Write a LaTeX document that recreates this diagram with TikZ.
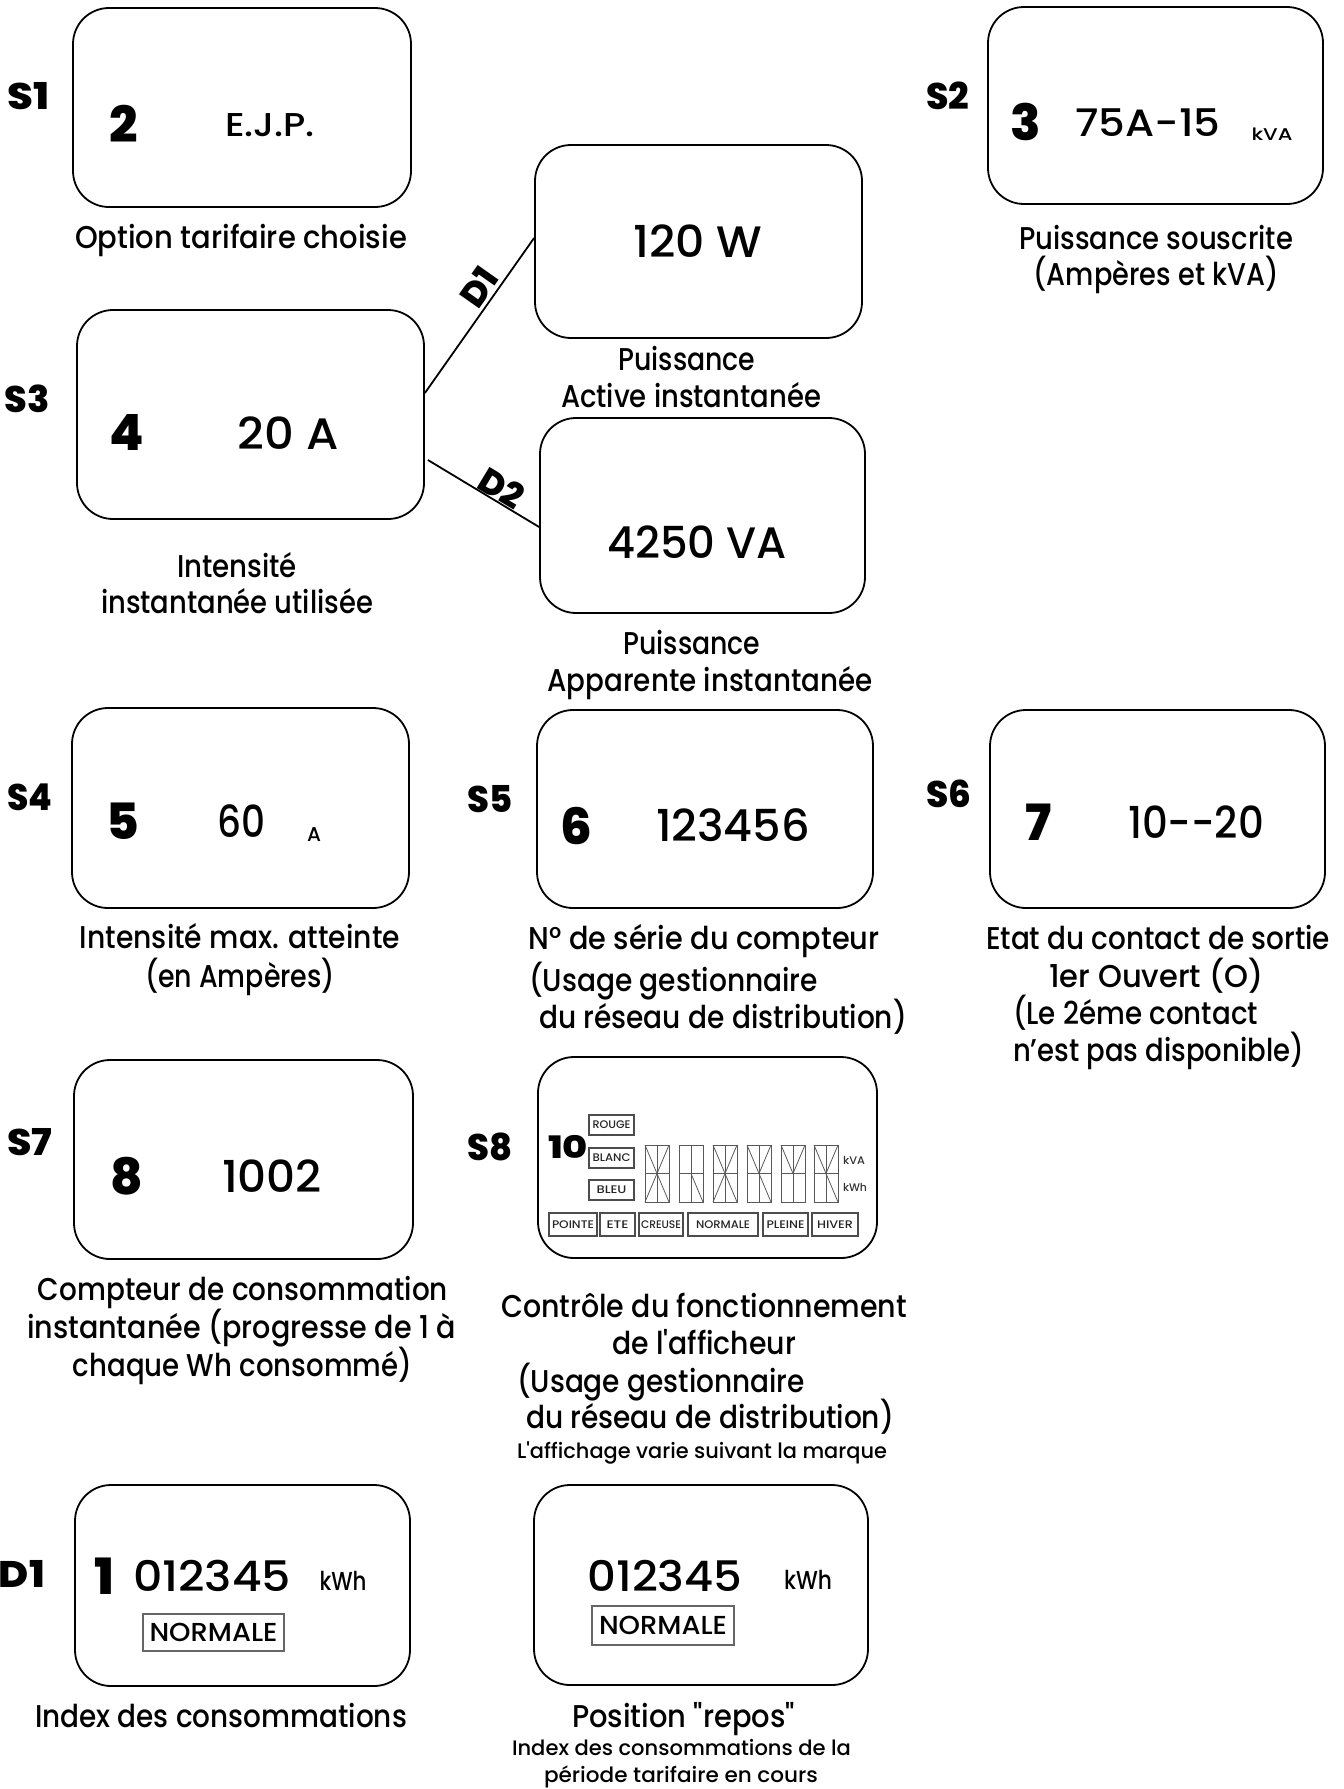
\documentclass[tikz,border=0pt]{standalone}
\usepackage{fontspec}
\setmainfont{Poppins}
\newfontfamily\pmed{Poppins}[UprightFont={* Medium}, BoldFont={* ExtraBold}]
\usepackage{graphicx}
\newlength\fitlen
\newcommand\fitw[2]{\settowidth\fitlen{#2}\pgfmathsetmacro\fitratio{#1/\fitlen}\scalebox{\fitratio}[1]{#2}}
\begin{document}
\begin{tikzpicture}[x=1pt,y=-1pt,
 mbox/.style={draw, line width=1.8pt, rounded corners=36pt, inner sep=0pt},
 conn/.style={line width=1.8pt},
 slab/.style={font=\pmed\fontsize{37}{37}\selectfont\bfseries, inner sep=0pt, text height=25pt, text depth=0pt},
 idx/.style={font=\pmed\fontsize{50}{50}\selectfont\bfseries, inner sep=0pt, text height=35pt, text depth=0pt},
 val/.style={font=\pmed\fontsize{44}{44}\selectfont, inner sep=0pt, text height=31pt, text depth=0pt},
 capt/.style={font=\pmed\fontsize{31.5}{31.5}\selectfont, inner sep=0pt, text height=22pt, text depth=0pt},
 scapt/.style={font=\pmed\fontsize{21}{21}\selectfont, inner sep=0pt, text height=15pt, text depth=0pt},
 dlab/.style={font=\pmed\fontsize{35}{35}\selectfont\bfseries, sloped, above},
 lcd/.style={draw=black!70, line width=1.2pt, inner sep=0pt, font=\pmed\fontsize{11}{11}\selectfont, text=black!85},
 seg/.style={draw=black!65, line width=0.8pt},
 unit/.style={inner sep=0pt, anchor=base},
 normbox/.style={draw=black!60, line width=1.5pt, inner sep=0pt, font=\pmed\fontsize{26}{26}\selectfont},
]
\useasboundingbox (0,0) rectangle (1344,1789);

% ---------- S1 ----------
\node[slab] (s1lab) at (29,97) {\fitw{42}{S1}};
\node[mbox, minimum width=338pt, minimum height=199pt] (s1box) at (242,107.5) {};
\node[idx] (s1idx) at (124,125) {2};
\node[val, font=\pmed\fontsize{33}{33}\selectfont, text height=23pt] (s1val) at (270,125) {\fitw{90}{E.J.P.}};
\node[capt] (s1c1) at (241,237) {\fitw{332}{Option tarifaire choisie}};

% ---------- S2 ----------
\node[slab] (s2lab) at (948,97) {\fitw{43}{S2}};
\node[mbox, minimum width=335pt, minimum height=197pt] (s2box) at (1155.5,105.5) {};
\node[idx] (s2idx) at (1026,123) {3};
\node[val, font=\pmed\fontsize{38}{38}\selectfont, text height=27pt] (s2val) at (1148,123) {\fitw{145}{75A-15}};
\node[unit, font=\pmed\fontsize{17}{17}\selectfont] (s2unit) at (1272,140) {\fitw{41}{kVA}};
\node[capt] (s2c1) at (1156,238) {\fitw{274}{Puissance souscrite}};
\node[capt] (s2c2) at (1156,274) {\fitw{245}{(Ampères et kVA)}};

% ---------- Puissance active ----------
\node[mbox, minimum width=327pt, minimum height=193pt] (pbox) at (698.5,241.5) {};
\node[val] (pval) at (698,242) {\fitw{129}{120 W}};
\node[capt] (pc1) at (687,359) {\fitw{137}{Puissance}};
\node[capt] (pc2) at (691,396) {\fitw{260}{Active instantanée}};

% ---------- S3 ----------
\node[slab] (s3lab) at (27,400) {\fitw{45}{S3}};
\node[mbox, minimum width=347pt, minimum height=209pt] (s3box) at (250.5,414.5) {};
\node[idx] (s3idx) at (127,433) {4};
\node[val] (s3val) at (288,434) {\fitw{101}{20 A}};
\node[capt] (s3c1) at (237,566) {\fitw{120}{Intensité}};
\node[capt] (s3c2) at (237,602) {\fitw{272}{instantanée utilisée}};

% ---------- Puissance apparente ----------
\node[mbox, minimum width=325pt, minimum height=195pt] (vabox) at (702.5,515.5) {};
\node[val] (vaval) at (697,543) {\fitw{180}{4250 VA}};
\node[capt] (vac1) at (692,643) {\fitw{137}{Puissance}};
\node[capt] (vac2) at (710,680) {\fitw{325}{Apparente instantanée}};

% ---------- connectors D1 / D2 ----------
\draw[conn] ([yshift=21.5pt]s3box.east) -- node[dlab, pos=0.62, inner sep=3pt] (d1lab) {D1} ([yshift=3.5pt]pbox.west);
\draw[conn] ([yshift=-45.5pt,xshift=3pt]s3box.east) -- node[dlab, pos=0.6, inner sep=0pt] (d2lab) {D2} ([yshift=-11.5pt]vabox.west);

% ---------- S4 ----------
\node[slab] (s4lab) at (30,798) {\fitw{45}{S4}};
\node[mbox, minimum width=337pt, minimum height=200pt] (s4box) at (240.5,808) {};
\node[idx] (s4idx) at (123,822) {5};
\node[val] (s4val) at (241,822) {\fitw{48}{60}};
\node[unit, font=\pmed\fontsize{20}{20}\selectfont] (s4unit) at (314,841) {A};
\node[capt] (s4c1) at (240,937) {\fitw{320}{Intensité max. atteinte}};
\node[capt] (s4c2) at (240,976) {\fitw{190}{(en Ampères)}};

% ---------- S5 ----------
\node[slab] (s5lab) at (490,800) {\fitw{45}{S5}};
\node[mbox, minimum width=336pt, minimum height=198pt] (s5box) at (705,809) {};
\node[idx] (s5idx) at (576,827) {6};
\node[val] (s5val) at (733,826) {\fitw{154}{123456}};
\node[capt] (s5c1) at (704,938) {\fitw{351}{N° de série du compteur}};
\node[capt] (s5c2) at (673.5,980) {\fitw{289}{(Usage gestionnaire}};
\node[capt] (s5c3) at (723,1017) {\fitw{368}{du réseau de distribution)}};

% ---------- S6 ----------
\node[slab] (s6lab) at (949,795) {\fitw{45}{S6}};
\node[mbox, minimum width=335pt, minimum height=198pt] (s6box) at (1157.5,809) {};
\node[idx] (s6idx) at (1039,823) {7};
\node[val] (s6val) at (1196,823) {\fitw{136}{10--20}};
\node[capt] (s6c1) at (1158,938) {\fitw{344}{Etat du contact de sortie}};
\node[capt] (s6c2) at (1156,976) {\fitw{214}{1er Ouvert (O)}};
\node[capt] (s6c3) at (1135.5,1013) {\fitw{245}{(Le 2éme contact}};
\node[capt] (s6c4) at (1158.5,1050) {\fitw{291}{n’est pas disponible)}};

% ---------- S7 ----------
\node[slab] (s7lab) at (30,1143) {\fitw{45}{S7}};
\node[mbox, minimum width=339pt, minimum height=199pt] (s7box) at (243.5,1159.5) {};
\node[idx] (s7idx) at (127,1177) {8};
\node[val] (s7val) at (272,1177) {\fitw{100}{1002}};
\node[capt] (s7c1) at (243,1289) {\fitw{410}{Compteur de consommation}};
\node[capt] (s7c2) at (241.5,1327) {\fitw{429}{instantanée (progresse de 1 à}};
\node[capt] (s7c3) at (242.5,1365) {\fitw{339}{chaque Wh consommé)}};

% ---------- S8 ----------
\node[slab] (s8lab) at (490,1148) {\fitw{45}{S8}};
\node[mbox, minimum width=339pt, minimum height=201pt] (s8box) at (707.5,1157.5) {};
\node[idx, font=\pmed\fontsize{31}{31}\selectfont\bfseries, text height=22pt] (s8idx) at (568,1147) {\fitw{40}{10}};
\node[lcd, minimum width=45pt, minimum height=20pt] (rouge) at (611.5,1125) {\fitw{38}{ROUGE}};
\node[lcd, minimum width=45pt, minimum height=20pt] (blanc) at (611.5,1158) {\fitw{38}{BLANC}};
\node[lcd, minimum width=45pt, minimum height=20pt] (bleu) at (611.5,1190) {\fitw{30}{BLEU}};
\node[lcd, minimum width=48pt, minimum height=23pt] (pointe) at (573,1224.5) {\fitw{42}{POINTE}};
\node[lcd, minimum width=35pt, minimum height=23pt] (ete) at (617.5,1224.5) {\fitw{22}{ETE}};
\node[lcd, minimum width=44pt, minimum height=23pt] (creuse) at (661,1224.5) {\fitw{40}{CREUSE}};
\node[lcd, minimum width=70pt, minimum height=23pt] (normale) at (723,1224.5) {\fitw{54}{NORMALE}};
\node[lcd, minimum width=45pt, minimum height=23pt] (pleine) at (785.5,1224.5) {\fitw{38}{PLEINE}};
\node[lcd, minimum width=46pt, minimum height=23pt] (hiver) at (835,1224.5) {\fitw{36}{HIVER}};
\foreach \xl in {645,679,713,747,781,814} {
  \draw[seg] (\xl,1145) rectangle ++(24,57);
  \draw[seg] (\xl+12,1145) -- ++(0,57);
  \draw[seg] (\xl,1173.5) -- ++(24,0);
}
\draw[seg] (645,1145) -- (657,1173.5) -- (669,1145);
\draw[seg] (645,1202) -- (657,1173.5) -- (669,1202);
\draw[seg] (691,1173.5) -- (703,1202);
\draw[seg] (713,1145) -- (725,1173.5) -- (737,1145);
\draw[seg] (713,1202) -- (725,1173.5) -- (737,1202);
\draw[seg] (747,1145) -- (759,1173.5) -- (771,1145);
\draw[seg] (759,1173.5) -- (771,1202);
\draw[seg] (781,1145) -- (793,1173.5) -- (805,1145);
\draw[seg] (814,1145) -- (826,1173.5) -- (838,1145);
\draw[seg] (826,1173.5) -- (838,1202);
\node[inner sep=0pt, font=\pmed\fontsize{11}{11}\selectfont, text=black!80] (s8kva) at (854,1160) {\fitw{22}{kVA}};
\node[inner sep=0pt, font=\pmed\fontsize{11}{11}\selectfont, text=black!80] (s8kwh) at (855,1187) {\fitw{24}{kWh}};
\node[capt] (s8c1) at (704,1306) {\fitw{406}{Contrôle du fonctionnement}};
\node[capt] (s8c2) at (704,1343) {\fitw{184}{de l'afficheur}};
\node[capt] (s8c3) at (661,1381) {\fitw{288}{(Usage gestionnaire}};
\node[capt] (s8c4) at (710,1417) {\fitw{368}{du réseau de distribution)}};
\node[scapt] (s8c5) at (702,1451) {\fitw{370}{L'affichage varie suivant la marque}};

% ---------- D1 ----------
\node[slab] (d1llab) at (22,1575) {\fitw{46}{D1}};
\node[mbox, minimum width=335pt, minimum height=201pt] (d1box) at (242.5,1585.5) {};
\node[idx] (d1idx) at (104,1577) {\fitw{20}{1}};
\node[val, font=\pmed\fontsize{42}{42}\selectfont, text height=29pt] (d1val) at (212,1577) {\fitw{158}{012345}};
\node[unit, font=\pmed\fontsize{26}{26}\selectfont] (d1unit) at (343,1590) {\fitw{47}{kWh}};
\node[normbox, minimum width=141pt, minimum height=37pt] (d1norm) at (213.5,1632.5) {\fitw{128}{NORMALE}};
\node[capt] (d1c1) at (221,1716) {\fitw{372}{Index des consommations}};

% ---------- repos ----------
\node[mbox, minimum width=334pt, minimum height=200pt] (rbox) at (701,1585) {};
\node[val, font=\pmed\fontsize{42}{42}\selectfont, text height=29pt] (rval) at (665,1577) {\fitw{155}{012345}};
\node[unit, font=\pmed\fontsize{26}{26}\selectfont] (runit) at (808,1589) {\fitw{48}{kWh}};
\node[normbox, minimum width=142pt, minimum height=39pt] (rnorm) at (663,1625.5) {\fitw{128}{NORMALE}};
\node[capt] (rc1) at (683.5,1716) {\fitw{223}{Position "repos"}};
\node[scapt] (rc2) at (681.5,1748) {\fitw{339}{Index des consommations de la}};
\node[scapt] (rc3) at (681,1775) {\fitw{274}{période tarifaire en cours}};
\end{tikzpicture}
\end{document}
